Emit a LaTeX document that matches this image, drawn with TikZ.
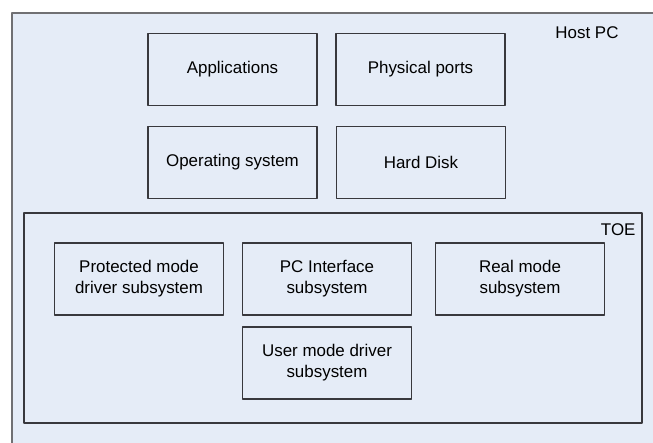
\documentclass[tikz,border=0pt]{standalone}
\usepackage{fontspec}
\setmainfont{Liberation Sans}

\definecolor{hostfill}{rgb}{0.90,0.925,0.97}
\definecolor{hostline}{rgb}{0.44,0.44,0.45}
\definecolor{boxline}{rgb}{0.22,0.22,0.24}

\begin{document}
\begin{tikzpicture}[>=latex,line join=bevel,
  sysbox/.style={draw=boxline,line width=1.2bp,minimum width=169bp,minimum height=72bp,
    align=center,inner sep=0pt,font=\fontsize{17}{21}\selectfont},
  tag/.style={inner sep=0pt,font=\fontsize{17}{21}\selectfont}]
  \pgfsetlinewidth{1bp}
  \useasboundingbox (0bp,0bp) rectangle (653bp,443bp);
  \clip (0bp,0bp) rectangle (653bp,443bp);
%%
  % Node: HostPC
\begin{scope}
  \draw [draw=hostline,fill=hostfill,line width=1.6bp] (12bp,-20bp) rectangle (690bp,430bp);
  \node [tag] (hostpc) at (587bp,410bp) {Host PC};
\end{scope}
  % Node: Applications
  \node [sysbox] (apps) at (232.5bp,373.5bp) {Applications};
  % Node: Physical ports
  \node [sysbox] (ports) at (420.5bp,373.5bp) {Physical ports};
  % Node: Operating system
  \node [sysbox] (os) at (232.5bp,280.5bp) {Operating system};
  % Node: Hard Disk
  \node [sysbox] (disk) at (421bp,280.5bp) {Hard Disk};
  % Node: TOE
\begin{scope}
  \node [draw=boxline,line width=1.2bp,minimum width=618bp,minimum height=210bp,inner sep=0pt] (toe) at (333bp,125bp) {};
  \node [tag,anchor=east] (toelabel) at (636bp,213bp) {TOE};
\end{scope}
  % Node: Protected mode driver subsystem
  \node [sysbox] (protmode) at (139bp,164bp) {Protected mode\\driver subsystem};
  % Node: PC Interface subsystem
  \node [sysbox] (pcif) at (327bp,164bp) {PC Interface\\subsystem};
  % Node: Real mode subsystem
  \node [sysbox] (realmode) at (520bp,164bp) {Real mode\\subsystem};
  % Node: User mode driver subsystem
  \node [sysbox] (usermode) at (327bp,80bp) {User mode driver\\subsystem};
%
\end{tikzpicture}
\end{document}
